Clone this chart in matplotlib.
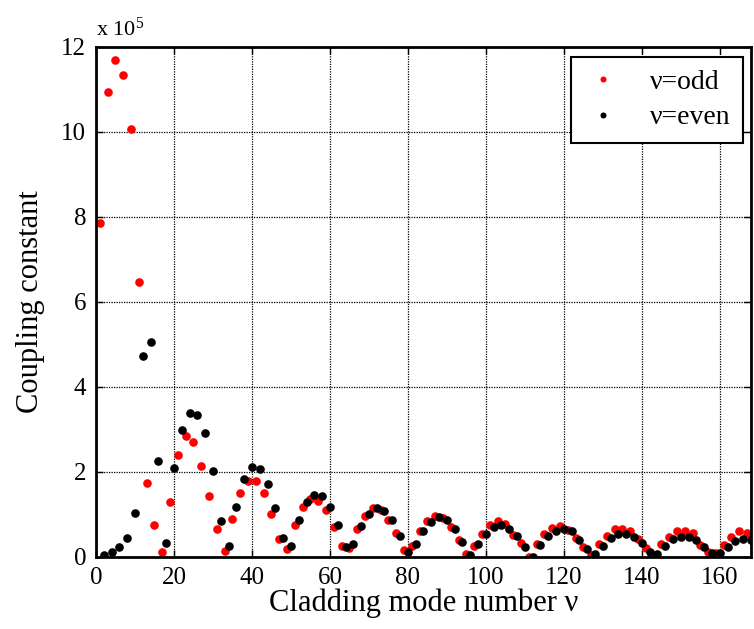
import matplotlib
matplotlib.use("Agg")
import matplotlib.pyplot as plt
import numpy as np

plt.rcParams['font.family'] = ['Liberation Serif', 'DejaVu Serif']
plt.rcParams['mathtext.fontset'] = 'custom'
plt.rcParams['mathtext.rm'] = 'Liberation Serif'
plt.rcParams['mathtext.default'] = 'regular'

# coupling constant values in units of 1e5
odd_modes = np.arange(1, 168, 2)
odd_vals = [7.85, 10.94, 11.69, 11.34, 10.07, 6.47, 1.75, 0.75, 0.12, 1.29,
            2.39, 2.85, 2.71, 2.14, 1.44, 0.65, 0.15, 0.90, 1.50, 1.79,
            1.78, 1.51, 1.01, 0.42, 0.18, 0.75, 1.18, 1.36, 1.32, 1.11,
            0.71, 0.26, 0.20, 0.65, 0.97, 1.15, 1.11, 0.87, 0.56, 0.16,
            0.26, 0.62, 0.85, 0.96, 0.91, 0.70, 0.40, 0.06, 0.26, 0.53,
            0.75, 0.85, 0.77, 0.52, 0.34, 0.01, 0.30, 0.53, 0.69, 0.73,
            0.64, 0.45, 0.24, 0.05, 0.31, 0.50, 0.65, 0.66, 0.60, 0.42,
            0.20, 0.05, 0.30, 0.48, 0.62, 0.62, 0.56, 0.28, 0.11, 0.09,
            0.28, 0.48, 0.60, 0.57]

even_modes = np.arange(2, 169, 2)
even_vals = [0.04, 0.12, 0.23, 0.44, 1.04, 4.73, 5.05, 2.25, 0.33, 2.10,
             2.99, 3.38, 3.35, 2.92, 2.03, 0.85, 0.26, 1.18, 1.83, 2.11,
             2.07, 1.71, 1.15, 0.44, 0.26, 0.87, 1.30, 1.47, 1.44, 1.17,
             0.75, 0.23, 0.30, 0.73, 1.00, 1.16, 1.08, 0.87, 0.50, 0.11,
             0.30, 0.62, 0.83, 0.93, 0.87, 0.65, 0.36, 0.05, 0.30, 0.53,
             0.71, 0.75, 0.67, 0.49, 0.24, 0.01, 0.28, 0.50, 0.62, 0.65,
             0.60, 0.40, 0.18, 0.06, 0.27, 0.44, 0.54, 0.54, 0.48, 0.32,
             0.11, 0.06, 0.26, 0.42, 0.48, 0.48, 0.40, 0.24, 0.09, 0.09,
             0.23, 0.38, 0.42, 0.40]

fig = plt.figure(figsize=(7.54, 6.29), dpi=100)
ax = fig.add_axes([0.1273, 0.1145, 0.8687, 0.8108])

ax.plot(odd_modes, odd_vals, 'o', color='red', markersize=6.2,
        markeredgewidth=0, label='ν=odd')
ax.plot(even_modes, even_vals, 'o', color='black', markersize=6.2,
        markeredgewidth=0, label='ν=even')

ax.set_xlim(0, 168)
ax.set_ylim(0, 12)
ax.set_xticks(np.arange(0, 161, 20))
ax.set_yticks(np.arange(0, 13, 2))
ax.tick_params(direction='in', length=5, width=1, labelsize=18,
               top=True, right=True, pad=7)
for sp in ax.spines.values():
    sp.set_linewidth(2)
ax.grid(True, color='black', linestyle=(0, (1, 1)), linewidth=0.9)

ax.set_xlabel('Cladding mode number ν', fontsize=22, labelpad=0)
ax.set_ylabel('Coupling constant', fontsize=22, labelpad=12)
ax.text(0.0, 1.012, r'x 10$^{5}$', transform=ax.transAxes, fontsize=16,
        ha='left', va='bottom')

leg = ax.legend(loc='upper right', fontsize=20, markerscale=0.7,
                fancybox=False, framealpha=1, edgecolor='black',
                handlelength=1.4, handletextpad=1.0, borderpad=0.45,
                labelspacing=0.35, borderaxespad=0,
                bbox_to_anchor=(0.988, 0.980))
leg.get_frame().set_linewidth(1.5)

fig.savefig('out.png', dpi=100)
